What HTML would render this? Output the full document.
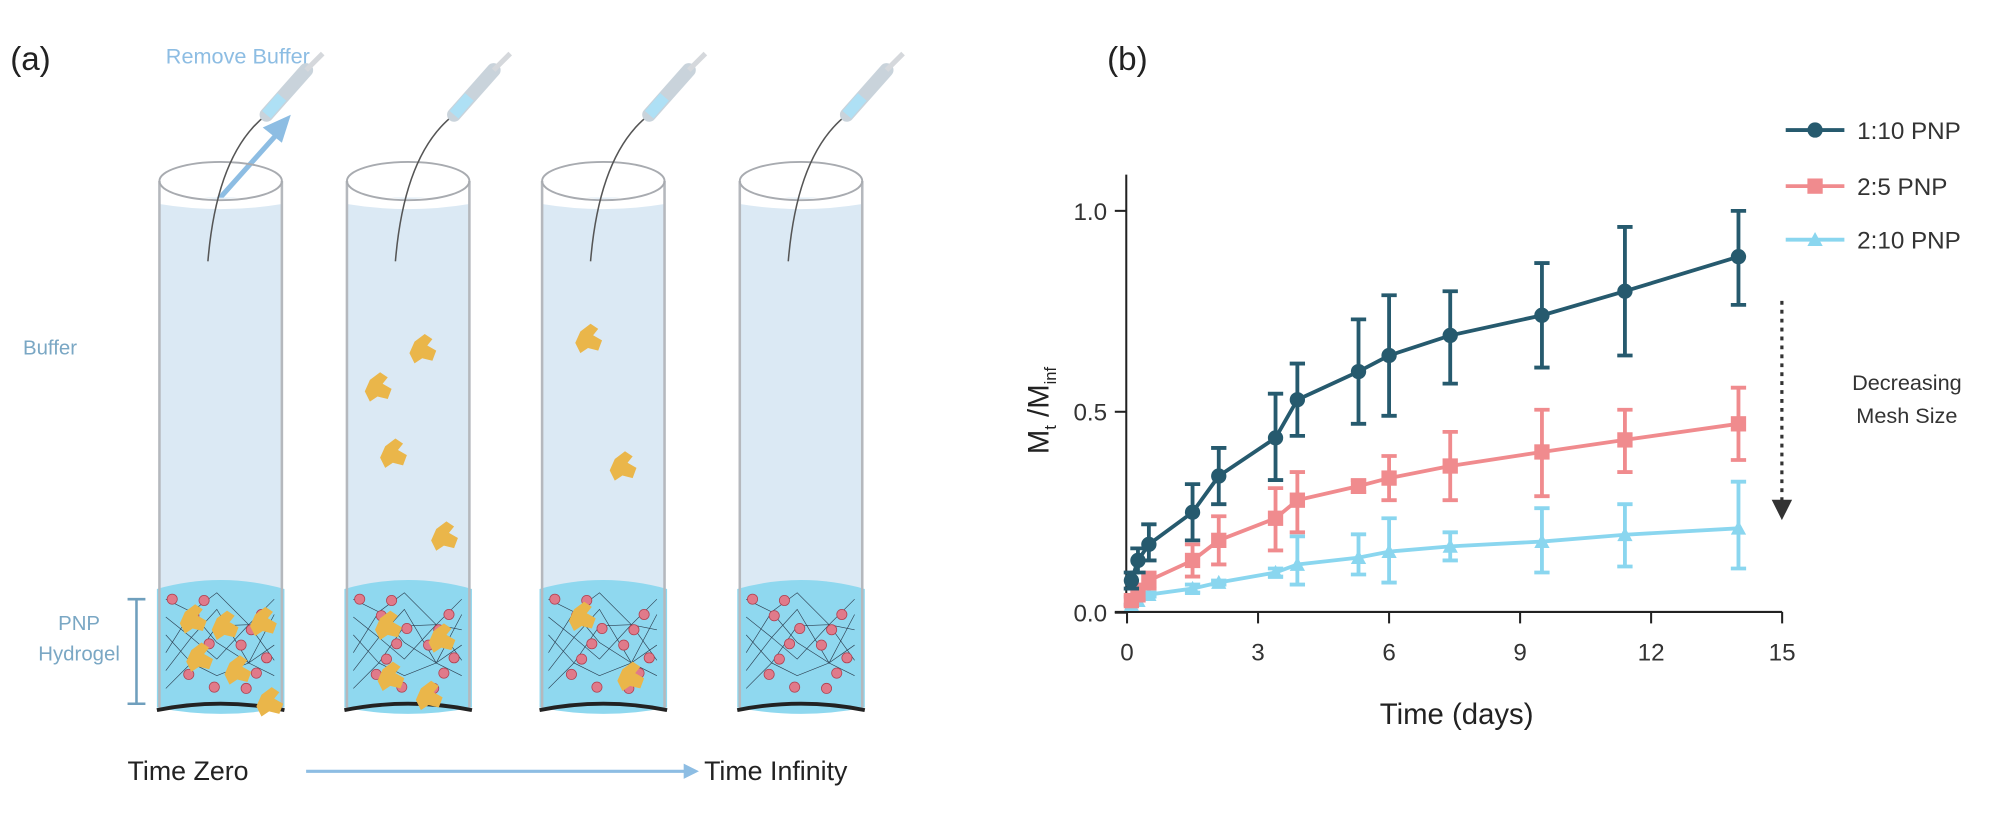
<!DOCTYPE html>
<html><head><meta charset="utf-8">
<style>
html,body{margin:0;padding:0;background:#fff;}
svg{display:block;font-family:"Liberation Sans",sans-serif;}
</style></head>
<body>
<svg id="fig" width="2000" height="821" viewBox="0 0 1568 644" preserveAspectRatio="none">
<g id="panelA">
  <text x="8" y="55" font-size="26" fill="#222">(a)</text>
  <text x="130" y="50" font-size="17" fill="#8dbde3">Remove Buffer</text>
  <line x1="170" y1="158" x2="220" y2="102" stroke="#8dbde3" stroke-width="4"/>
  <polygon points="228,90 206,100 221,112" fill="#8dbde3"/>
  <text x="18" y="278" font-size="16" fill="#7aa7c4">Buffer</text>
  <text x="62" y="494" font-size="16" fill="#7aa7c4" text-anchor="middle">PNP</text>
  <text x="62" y="518" font-size="16" fill="#7aa7c4" text-anchor="middle">Hydrogel</text>
  <path d="M100 470 H114 M107 470 V552 M100 552 H114" stroke="#6f9fbd" stroke-width="2" fill="none"/>
  <text x="100" y="612" font-size="21" fill="#222">Time Zero</text>
  <line x1="240" y1="605" x2="540" y2="605" stroke="#8dbde3" stroke-width="2.5"/>
  <polygon points="548,605 536,599 536,611" fill="#8dbde3"/>
  <text x="552" y="612" font-size="21" fill="#222">Time Infinity</text>
</g>
<g id="panelB">
  <text x="868" y="55" font-size="26" fill="#222">(b)</text>
</g>
</svg>
<script>
// ---- chart data ----
const times = [0.1, 0.25, 0.5, 1.5, 2.1, 3.4, 3.9, 5.3, 6.0, 7.4, 9.5, 11.4, 14];
const dark = [0.08, 0.13, 0.17, 0.25, 0.34, 0.435, 0.53, 0.60, 0.64, 0.69, 0.74, 0.80, 0.886];
const darkHi = [0.10, 0.16, 0.22, 0.32, 0.41, 0.545, 0.62, 0.73, 0.79, 0.80, 0.87, 0.96, 1.00];
const darkLo = [0.06, 0.10, 0.13, 0.18, 0.27, 0.33, 0.44, 0.47, 0.49, 0.57, 0.61, 0.64, 0.766];
const pink = [0.03, 0.05, 0.08, 0.13, 0.18, 0.235, 0.28, 0.315, 0.335, 0.365, 0.40, 0.43, 0.47];
const pinkHi = [0.04, 0.07, 0.10, 0.17, 0.24, 0.31, 0.35, 0.33, 0.39, 0.45, 0.505, 0.505, 0.56];
const pinkLo = [0.02, 0.03, 0.06, 0.09, 0.12, 0.155, 0.20, 0.30, 0.28, 0.28, 0.29, 0.35, 0.38];
const blue = [0.02, 0.03, 0.045, 0.06, 0.075, 0.10, 0.12, 0.137, 0.152, 0.165, 0.177, 0.194, 0.21];
const blueHi = [0.02, 0.03, 0.05, 0.07, 0.08, 0.11, 0.19, 0.195, 0.235, 0.20, 0.26, 0.27, 0.326];
const blueLo = [0.02, 0.03, 0.04, 0.05, 0.07, 0.09, 0.07, 0.095, 0.075, 0.13, 0.10, 0.115, 0.11];
const xTicks = [0, 3, 6, 9, 12, 15];
const yTicks = [0, 0.5, 1.0];
const yTickLabels = ["0.0", "0.5", "1.0"];
const seriesNames = ["1:10 PNP", "2:5 PNP", "2:10 PNP"];

const NS = "http://www.w3.org/2000/svg";
const fig = document.getElementById('fig');
const pA = document.getElementById('panelA');
const pB = document.getElementById('panelB');
function mk(tag, attrs, parent) {
  const e = document.createElementNS(NS, tag);
  for (const k in attrs) e.setAttribute(k, attrs[k]);
  (parent || fig).appendChild(e);
  return e;
}
const X = t => 883.6 + t * 34.24;
const Y = v => 480.6 - v * 315.2;

// ---- tubes ----
const tubeX = [125, 272, 425, 580];
const blobs = [
  [[145,480],[170,485],[200,482],[150,510],[180,520],[205,545]],
  [[290,298],[325,268],[302,350],[342,415],[298,485],[340,495],[300,525],[330,540]],
  [[455,260],[482,360],[450,478],[488,525]],
  []
];
for (let i = 0; i < 4; i++) {
  const x = tubeX[i], w = 96;
  const g = mk('g', {}, pA);
  
  
  mk('rect', {x: x, y: 155, width: w, height: 400, fill: '#dbe9f4'}, g);
  mk('path', {d: `M${x} 142 Q${x + w/2} 170 ${x + w} 142 V160 Q${x + w/2} 168 ${x} 160 Z`, fill: '#fff'}, g);
  mk('path', {d: `M${x-2} 462 Q${x + w/2} 448 ${x + w + 2} 462 L${x + w + 2} 555 Q${x + w/2} 565 ${x-2} 555 Z`, fill: '#8fd8ef'}, g);
  mk('line', {x1: x, y1: 142, x2: x, y2: 555, stroke: '#b5b8bd', 'stroke-width': 2}, g);
  mk('line', {x1: x + w, y1: 142, x2: x + w, y2: 555, stroke: '#b5b8bd', 'stroke-width': 2}, g);
  mk('ellipse', {cx: x + w/2, cy: 142, rx: w/2, ry: 15, fill: 'none', stroke: '#a8abb0', 'stroke-width': 1.5}, g);
  mk('path', {d: `M${x-2} 557 Q${x + w/2} 547 ${x + w + 2} 557`, stroke: '#222', 'stroke-width': 3, fill: 'none'}, g);
  let d = '';
  for (let k = 0; k < 6; k++) {
    d += `M${x + 5} ${470 + k*14} L${x + 25} ${480 + (k%3)*20} L${x + 45} ${465 + k*13} L${x + 70} ${490 + (k%2)*30} L${x + 90} ${470 + k*12} `;
  }
  mk('path', {d: d, stroke: '#2c3e50', 'stroke-width': 0.5, fill: 'none'}, g);
  for (let k = 0; k < 14; k++) {
    mk('circle', {cx: x + 10 + (k*37) % 78, cy: 470 + (k*23) % 80, r: 4, fill: '#e07a8a', stroke: '#b04050', 'stroke-width': 0.6}, g);
  }
  const sx = x + 80;
  mk('path', {d: `M${x + 38} 205 Q${x + 45} 120 ${sx + 4} 90`, stroke: '#555', 'stroke-width': 1.2, fill: 'none'}, g);
  mk('line', {x1: sx + 4, y1: 90, x2: sx + 35, y2: 55, stroke: '#c9d3db', 'stroke-width': 11, 'stroke-linecap': 'round'}, g);
  mk('line', {x1: sx + 4, y1: 90, x2: sx + 16, y2: 76, stroke: '#aee0f5', 'stroke-width': 9}, g);
  mk('line', {x1: sx + 35, y1: 55, x2: sx + 48, y2: 42, stroke: '#d5d8dc', 'stroke-width': 4}, g);
  for (const b of blobs[i]) {
    mk('path', {d: `M${b[0]} ${b[1]} l8 -6 l6 4 l-4 5 l7 4 l-3 8 l-8 -2 l-6 4 l-4 -8 z`, fill: '#eab64a'}, g);
  }
}

// ---- chart axes ----
const axes = mk('g', {}, pB);


mk('line', {x1: 883, y1: 137, x2: 883, y2: 481, stroke: '#222', 'stroke-width': 1.6}, axes);
mk('line', {x1: 874, y1: 480, x2: X(15), y2: 480, stroke: '#222', 'stroke-width': 1.6}, axes);
xTicks.forEach(t => {
  mk('line', {x1: X(t), y1: 480, x2: X(t), y2: 489, stroke: '#222', 'stroke-width': 1.6}, axes);
  const tx = mk('text', {x: X(t), y: 518, 'font-size': 19, 'text-anchor': 'middle', fill: '#333'}, axes);
  tx.textContent = String(t);
  
  
});
yTicks.forEach((v, i) => {
  mk('line', {x1: 874, y1: Y(v), x2: 883, y2: Y(v), stroke: '#222', 'stroke-width': 1.6}, axes);
  const tx = mk('text', {x: 868, y: Y(v) + 7, 'font-size': 19, 'text-anchor': 'end', fill: '#333'}, axes);
  tx.textContent = yTickLabels[i];
  
  
});
const xt = mk('text', {x: 1142, y: 568, 'font-size': 23, 'text-anchor': 'middle', fill: '#222'}, pB);
xt.textContent = 'Time (days)';


const yt = mk('text', {x: 0, y: 0, 'font-size': 23, 'text-anchor': 'middle', fill: '#222', transform: 'translate(822,322) rotate(-90)'}, pB);
yt.innerHTML = 'M<tspan font-size="13" dy="6">t</tspan><tspan dy="-6"> /M</tspan><tspan font-size="13" dy="6">inf</tspan>';



// ---- series ----
const series = [
  {v: dark, hi: darkHi, lo: darkLo, c: '#265a6e', m: 'circle'},
  {v: pink, hi: pinkHi, lo: pinkLo, c: '#f08b8e', m: 'square'},
  {v: blue, hi: blueHi, lo: blueLo, c: '#8ad6ef', m: 'tri'}
];
function marker(m, x, y, c, g) {
  if (m === 'circle') return mk('circle', {cx: x, cy: y, r: 6, fill: c}, g);
  if (m === 'square') return mk('rect', {x: x - 6, y: y - 6, width: 12, height: 12, fill: c}, g);
  return mk('polygon', {points: `${x},${y-6} ${x+6},${y+5} ${x-6},${y+5}`, fill: c}, g);
}
series.slice().reverse().forEach((s, ri) => {
  const si = 2 - ri;
  const g = mk('g', {}, pB);
  
  
  mk('polyline', {points: times.map((t, i) => X(t) + ',' + Y(s.v[i])).join(' '), fill: 'none', stroke: s.c, 'stroke-width': 3}, g);
  times.forEach((t, i) => {
    const x = X(t);
    const eb = mk('path', {d: `M${x} ${Y(s.hi[i])} V${Y(s.lo[i])} M${x-6} ${Y(s.hi[i])} H${x+6} M${x-6} ${Y(s.lo[i])} H${x+6}`, stroke: s.c, 'stroke-width': 3, fill: 'none'}, g);
    
    
    const p = marker(s.m, x, Y(s.v[i]), s.c, g);
    
    
  });
});

// ---- legend ----
const legY = [102, 146, 188];
series.forEach((s, i) => {
  const g = mk('g', {}, pB);
  
  
  mk('line', {x1: 1400, y1: legY[i], x2: 1446, y2: legY[i], stroke: s.c, 'stroke-width': 3}, g);
  marker(s.m, 1423, legY[i], s.c, g);
  const t = mk('text', {x: 1456, y: legY[i] + 7, 'font-size': 19, fill: '#333'}, g);
  t.textContent = seriesNames[i];
});

// ---- decreasing mesh size annotation ----
const an = mk('g', {}, pB);


mk('line', {x1: 1397, y1: 236, x2: 1397, y2: 395, stroke: '#333', 'stroke-width': 2.5, 'stroke-dasharray': '3,4'}, an);
mk('polygon', {points: '1389,392 1405,392 1397,408', fill: '#333'}, an);
const a1 = mk('text', {x: 1495, y: 306, 'font-size': 17, 'text-anchor': 'middle', fill: '#333'}, an);
a1.textContent = 'Decreasing';
const a2 = mk('text', {x: 1495, y: 332, 'font-size': 17, 'text-anchor': 'middle', fill: '#333'}, an);
a2.textContent = 'Mesh Size';
</script>
</body></html>
